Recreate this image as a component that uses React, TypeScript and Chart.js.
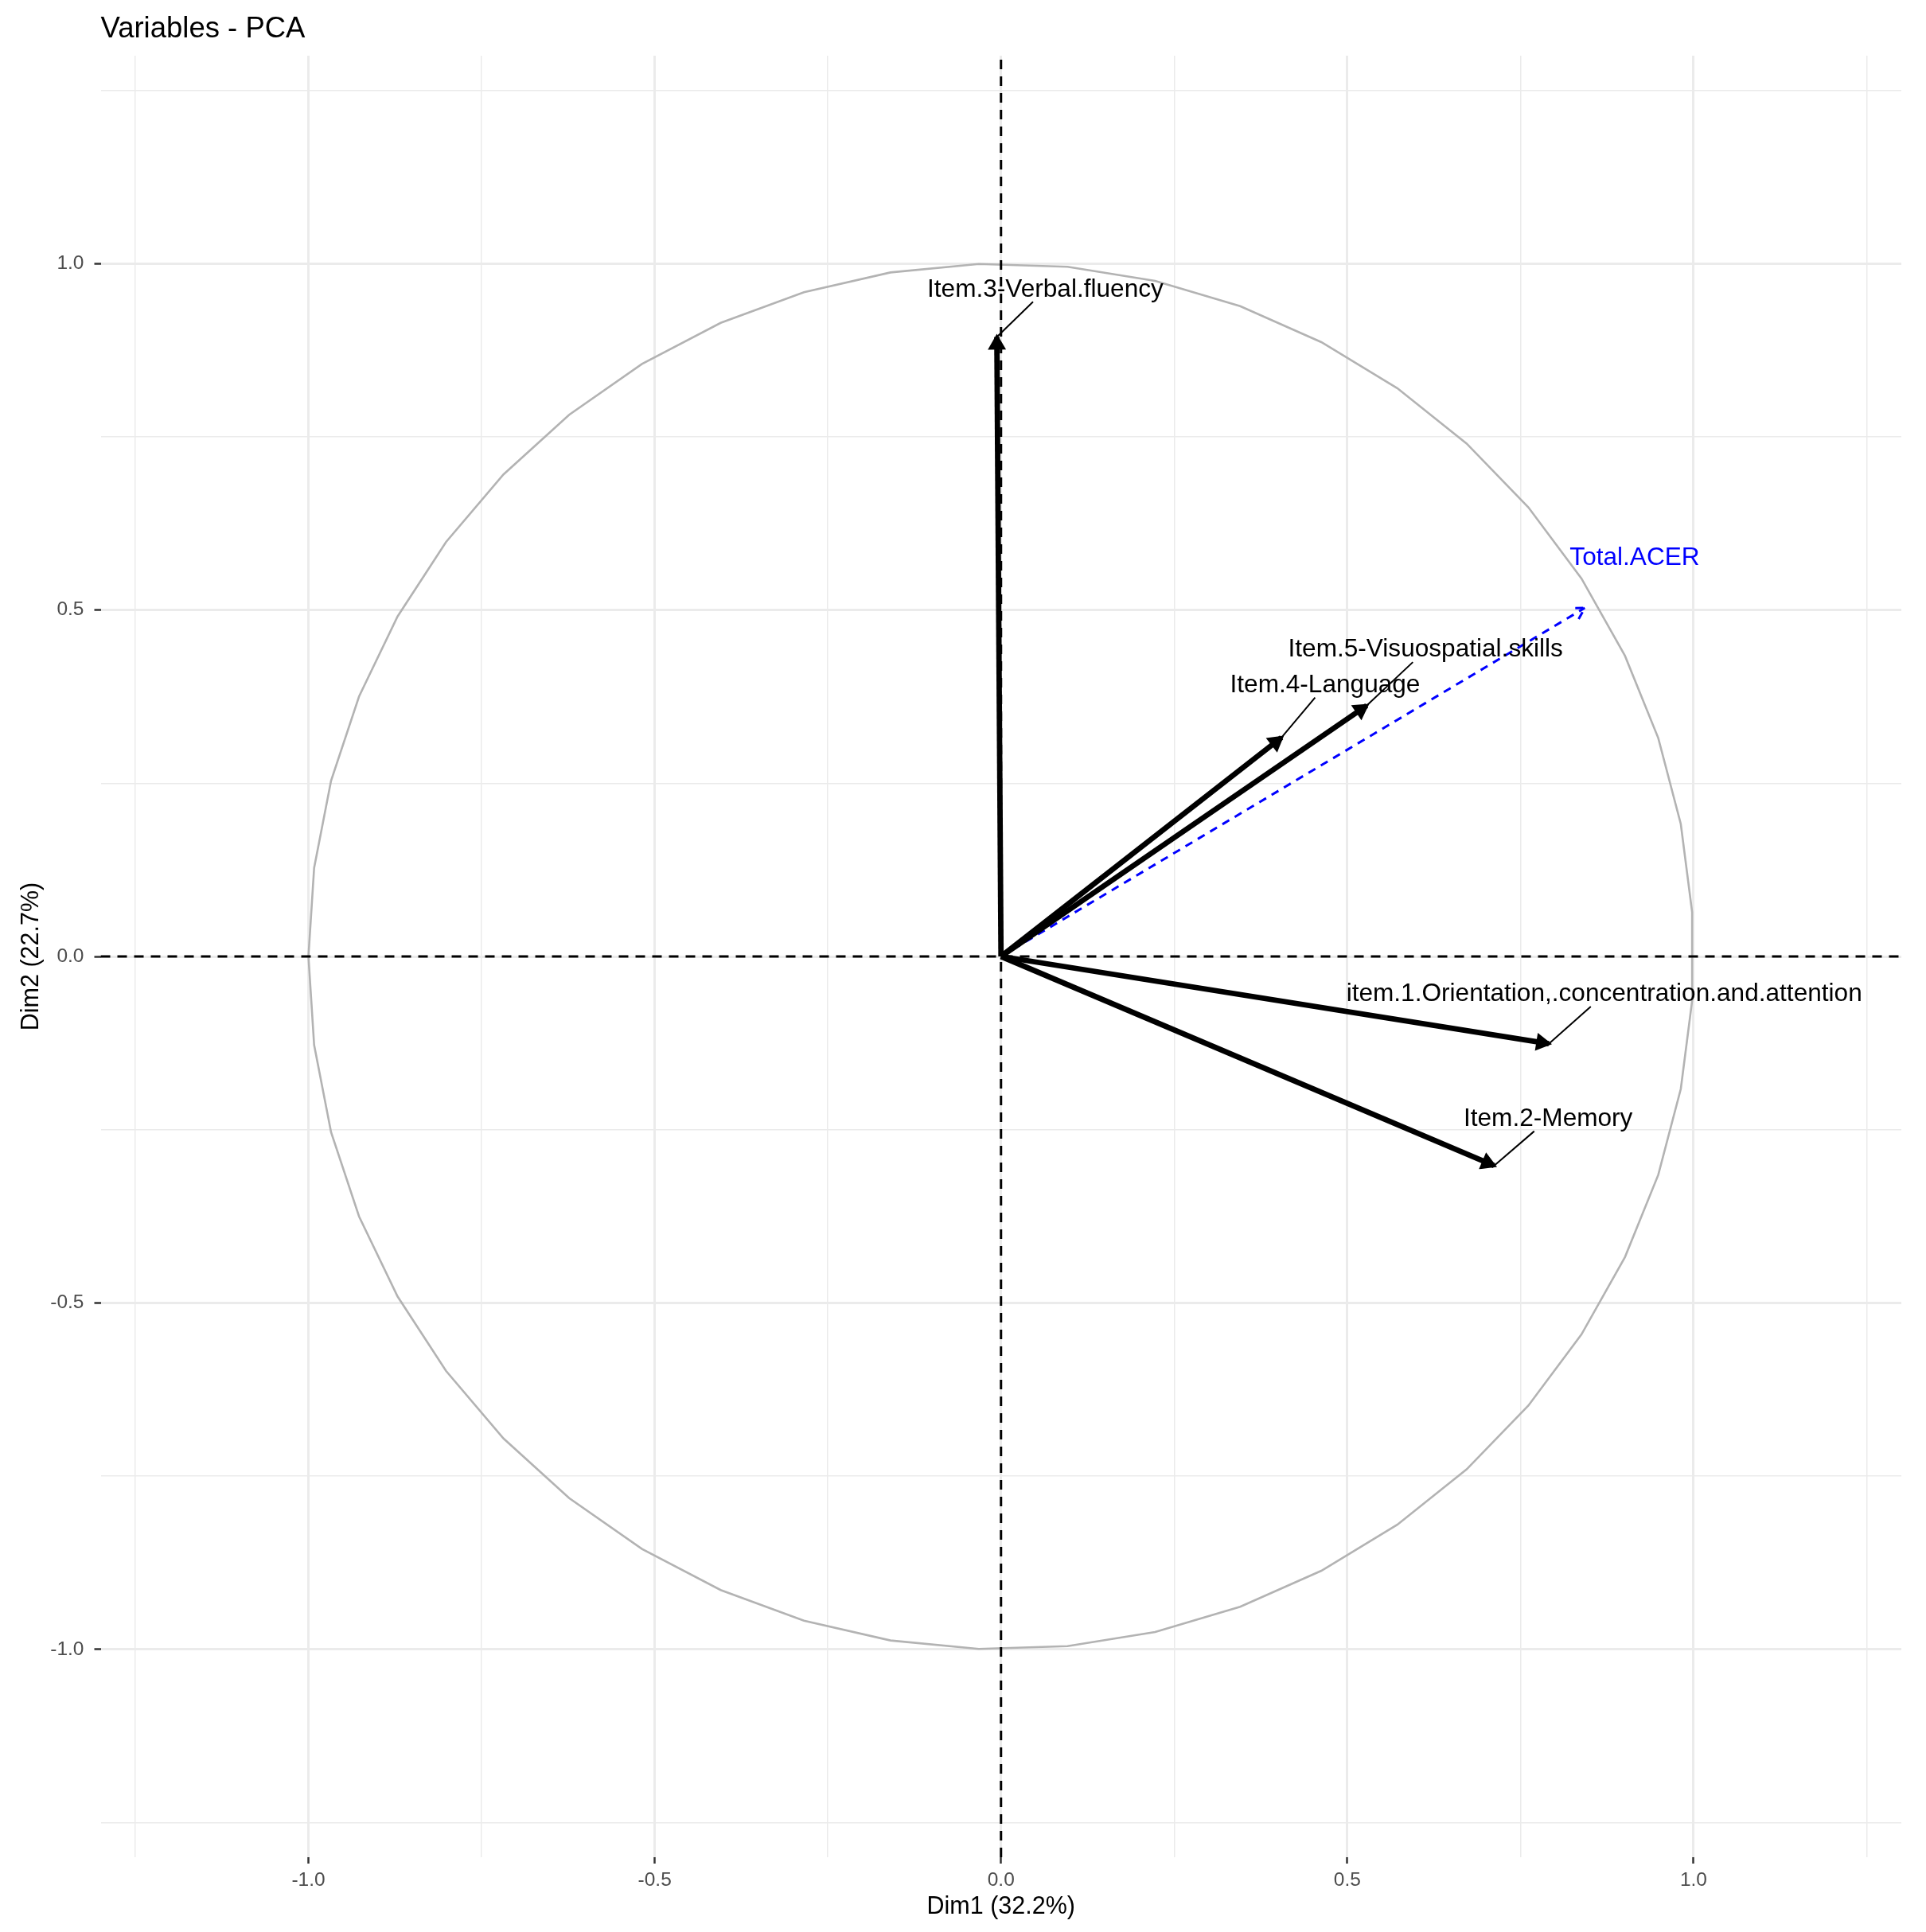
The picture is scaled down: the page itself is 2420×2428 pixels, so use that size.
import { useEffect, useRef } from "react";
import { Chart, registerables } from "chart.js";

Chart.register(...registerables);

const FONT = "'Liberation Sans', Arial, Helvetica, sans-serif";

const TITLE = "Variables - PCA";
const X_TITLE = "Dim1 (32.2%)";
const Y_TITLE = "Dim2 (22.7%)";

const AXIS_MIN = -1.3;
const AXIS_MAX = 1.3;
const GRID_VALUES = [-1.25, -1, -0.75, -0.5, -0.25, 0, 0.25, 0.5, 0.75, 1, 1.25];
const TICK_LABELS = ["", "-1.0", "", "-0.5", "", "0.0", "", "0.5", "", "1.0", ""];

// active variables (coordinates of the arrow tips)
const VARIABLES = [
    "item.1.Orientation,.concentration.and.attention",
    "Item.2-Memory",
    "Item.3-Verbal.fluency",
    "Item.4-Language",
    "Item.5-Visuospatial.skills",
];
const DIM1 = [0.791, 0.712, -0.006, 0.405, 0.528];
const DIM2 = [-0.126, -0.302, 0.894, 0.316, 0.362];
// repelled label positions
const LABEL_X = [0.871, 0.79, 0.064, 0.468, 0.613];
const LABEL_Y = [-0.055, -0.235, 0.962, 0.391, 0.442];

// supplementary variable
const SUP_VARIABLES = ["Total.ACER"];
const SUP_DIM1 = [0.843];
const SUP_DIM2 = [0.503];
const SUP_LABEL_X = [0.915];
const SUP_LABEL_Y = [0.574];

// correlation circle, same 50 vertices as factoextra
const CIRCLE_N = 50;
const circlePoints = Array.from({ length: CIRCLE_N }, (_, i) => {
    const t = -Math.PI + (2 * Math.PI * i) / (CIRCLE_N - 1);
    return { x: Math.cos(t), y: Math.sin(t) };
});

const isMajor = (i: number) => TICK_LABELS[i] !== "" && TICK_LABELS[i] !== undefined;

const arrowHeads = {
    id: "arrowHeads",
    afterDatasetsDraw(chart: any) {
        const ctx = chart.ctx;
        chart.data.datasets.forEach((ds: any, i: number) => {
            if (!ds.arrowHead) return;
            const pts = chart.getDatasetMeta(i).data;
            const p0 = pts[0];
            const p1 = pts[pts.length - 1];
            const ang = Math.atan2(p1.y - p0.y, p1.x - p0.x);
            const len = ds.arrowHead.len;
            const spread = Math.PI / 6;
            const ax = p1.x - len * Math.cos(ang - spread);
            const ay = p1.y - len * Math.sin(ang - spread);
            const bx = p1.x - len * Math.cos(ang + spread);
            const by = p1.y - len * Math.sin(ang + spread);
            ctx.save();
            ctx.strokeStyle = ds.borderColor;
            ctx.fillStyle = ds.borderColor;
            ctx.lineWidth = ds.arrowHead.width;
            ctx.lineJoin = "miter";
            ctx.lineCap = "butt";
            ctx.setLineDash(ds.arrowHead.closed ? [] : ds.borderDash || []);
            ctx.beginPath();
            ctx.moveTo(ax, ay);
            ctx.lineTo(p1.x, p1.y);
            ctx.lineTo(bx, by);
            if (ds.arrowHead.closed) {
                ctx.closePath();
                ctx.fill();
            }
            ctx.stroke();
            ctx.restore();
        });
    },
};

const varLabels = {
    id: "varLabels",
    afterDraw(chart: any) {
        const { ctx, scales, chartArea } = chart;
        const size = 31.6;
        const drawLabel = (text: string, lx: number, ly: number, px: number, py: number, color: string, segment: boolean) => {
            const cx = scales.x.getPixelForValue(lx);
            const cy = scales.y.getPixelForValue(ly);
            const tx = scales.x.getPixelForValue(px);
            const ty = scales.y.getPixelForValue(py);
            ctx.save();
            ctx.font = `${size}px ${FONT}`;
            const w = ctx.measureText(text).width;
            if (segment) {
                const hw = w / 2 + 3;
                const hh = 15;
                const dx = tx - cx;
                const dy = ty - cy;
                const s = Math.min(Math.abs(dx) > 0 ? hw / Math.abs(dx) : Infinity, Math.abs(dy) > 0 ? hh / Math.abs(dy) : Infinity);
                if (s < 1) {
                    ctx.strokeStyle = "#000000";
                    ctx.lineWidth = 2;
                    ctx.beginPath();
                    ctx.moveTo(cx + dx * s, cy + dy * s);
                    ctx.lineTo(tx, ty);
                    ctx.stroke();
                }
            }
            ctx.fillStyle = color;
            ctx.textAlign = "center";
            ctx.textBaseline = "alphabetic";
            ctx.fillText(text, cx, cy + size * 0.26);
            ctx.restore();
        };
        VARIABLES.forEach((v, i) => drawLabel(v, LABEL_X[i], LABEL_Y[i], DIM1[i], DIM2[i], "#000000", true));
        SUP_VARIABLES.forEach((v, i) => drawLabel(v, SUP_LABEL_X[i], SUP_LABEL_Y[i], SUP_DIM1[i], SUP_DIM2[i], "#0000FF", false));

        // plot title
        ctx.save();
        ctx.font = `36.5px ${FONT}`;
        ctx.fillStyle = "#000000";
        ctx.textAlign = "left";
        ctx.textBaseline = "alphabetic";
        ctx.fillText(TITLE, chartArea.left, 47);
        ctx.restore();
    },
};

export default function App() {
    const chartRef = useRef<HTMLCanvasElement>(null);
    const chartInstance = useRef<Chart | null>(null);

    useEffect(() => {
        if (!chartRef.current) return;

        const datasets: any[] = [
            {
                label: "x0",
                data: [{ x: AXIS_MIN, y: 0 }, { x: AXIS_MAX, y: 0 }],
                borderColor: "#000000",
                borderWidth: 3,
                borderDash: [12, 9],
                order: 0,
            },
            {
                label: "y0",
                data: [{ x: 0, y: AXIS_MIN }, { x: 0, y: AXIS_MAX }],
                borderColor: "#000000",
                borderWidth: 3,
                borderDash: [12, 9],
                order: 0,
            },
            ...VARIABLES.map((v, i) => ({
                label: v,
                data: [{ x: 0, y: 0 }, { x: DIM1[i], y: DIM2[i] }],
                borderColor: "#000000",
                borderWidth: 6.8,
                arrowHead: { len: 16, width: 4, closed: true },
                order: 1,
            })),
            ...SUP_VARIABLES.map((v, i) => ({
                label: v,
                data: [{ x: 0, y: 0 }, { x: SUP_DIM1[i], y: SUP_DIM2[i] }],
                borderColor: "#0000FF",
                borderWidth: 3,
                borderDash: [10, 8],
                arrowHead: { len: 16, width: 3, closed: false },
                order: 1,
            })),
            {
                label: "circle",
                data: circlePoints,
                borderColor: "#B3B3B3",
                borderWidth: 2.6,
                order: 2,
            },
        ].map((d) => ({ ...d, showLine: true, pointRadius: 0, tension: 0, fill: false }));

        const axisCommon = (title: string, titlePadding: any, tickPadding: number, fit: (s: any) => void) => ({
            type: "linear",
            min: AXIS_MIN,
            max: AXIS_MAX,
            afterBuildTicks: (scale: any) => {
                scale.ticks = GRID_VALUES.map((value) => ({ value }));
            },
            afterFit: fit,
            border: { display: false },
            grid: {
                color: "#EBEBEB",
                lineWidth: (c: any) => (isMajor(c.index) ? 3 : 1.5),
                drawTicks: true,
                tickLength: 8,
                tickColor: (c: any) => (isMajor(c.index) ? "#333333" : "rgba(0,0,0,0)"),
                tickWidth: 2.5,
            },
            ticks: {
                autoSkip: false,
                maxRotation: 0,
                padding: tickPadding,
                color: "#4D4D4D",
                font: { family: FONT, size: 24.5 },
                callback: (_v: any, index: number) => TICK_LABELS[index],
            },
            title: {
                display: true,
                text: title,
                color: "#000000",
                font: { family: FONT, size: 30.5, lineHeight: 1.2 },
                padding: titlePadding,
            },
        });

        const config = {
            type: "scatter",
            data: { datasets },
            options: {
                animation: false,
                responsive: false,
                devicePixelRatio: 1,
                events: [],
                layout: { padding: { left: 0, top: 70, right: 31, bottom: 0 } },
                plugins: {
                    legend: { display: false },
                    tooltip: { enabled: false },
                    title: { display: false },
                },
                scales: {
                    x: axisCommon(X_TITLE, { top: 0, bottom: 12.7 }, 7, (s: any) => {
                        s.height = 94;
                    }),
                    y: axisCommon(Y_TITLE, { top: 21.7, bottom: 0 }, 13, (s: any) => {
                        s.width = 126.5;
                    }),
                },
            },
            plugins: [arrowHeads, varLabels],
        };

        if (chartInstance.current) {
            chartInstance.current.destroy();
        }
        const ctx = chartRef.current.getContext("2d");
        if (ctx) {
            chartInstance.current = new Chart(ctx, config as any);
        }

        return () => {
            if (chartInstance.current) {
                chartInstance.current.destroy();
                chartInstance.current = null;
            }
        };
    }, []);

    return (
        <div style={{ position: "absolute", left: 0, top: 0, width: 2420, height: 2428, background: "#ffffff" }}>
            <canvas ref={chartRef} width={2420} height={2428} style={{ width: 2420, height: 2428, display: "block" }} />
        </div>
    );
}
